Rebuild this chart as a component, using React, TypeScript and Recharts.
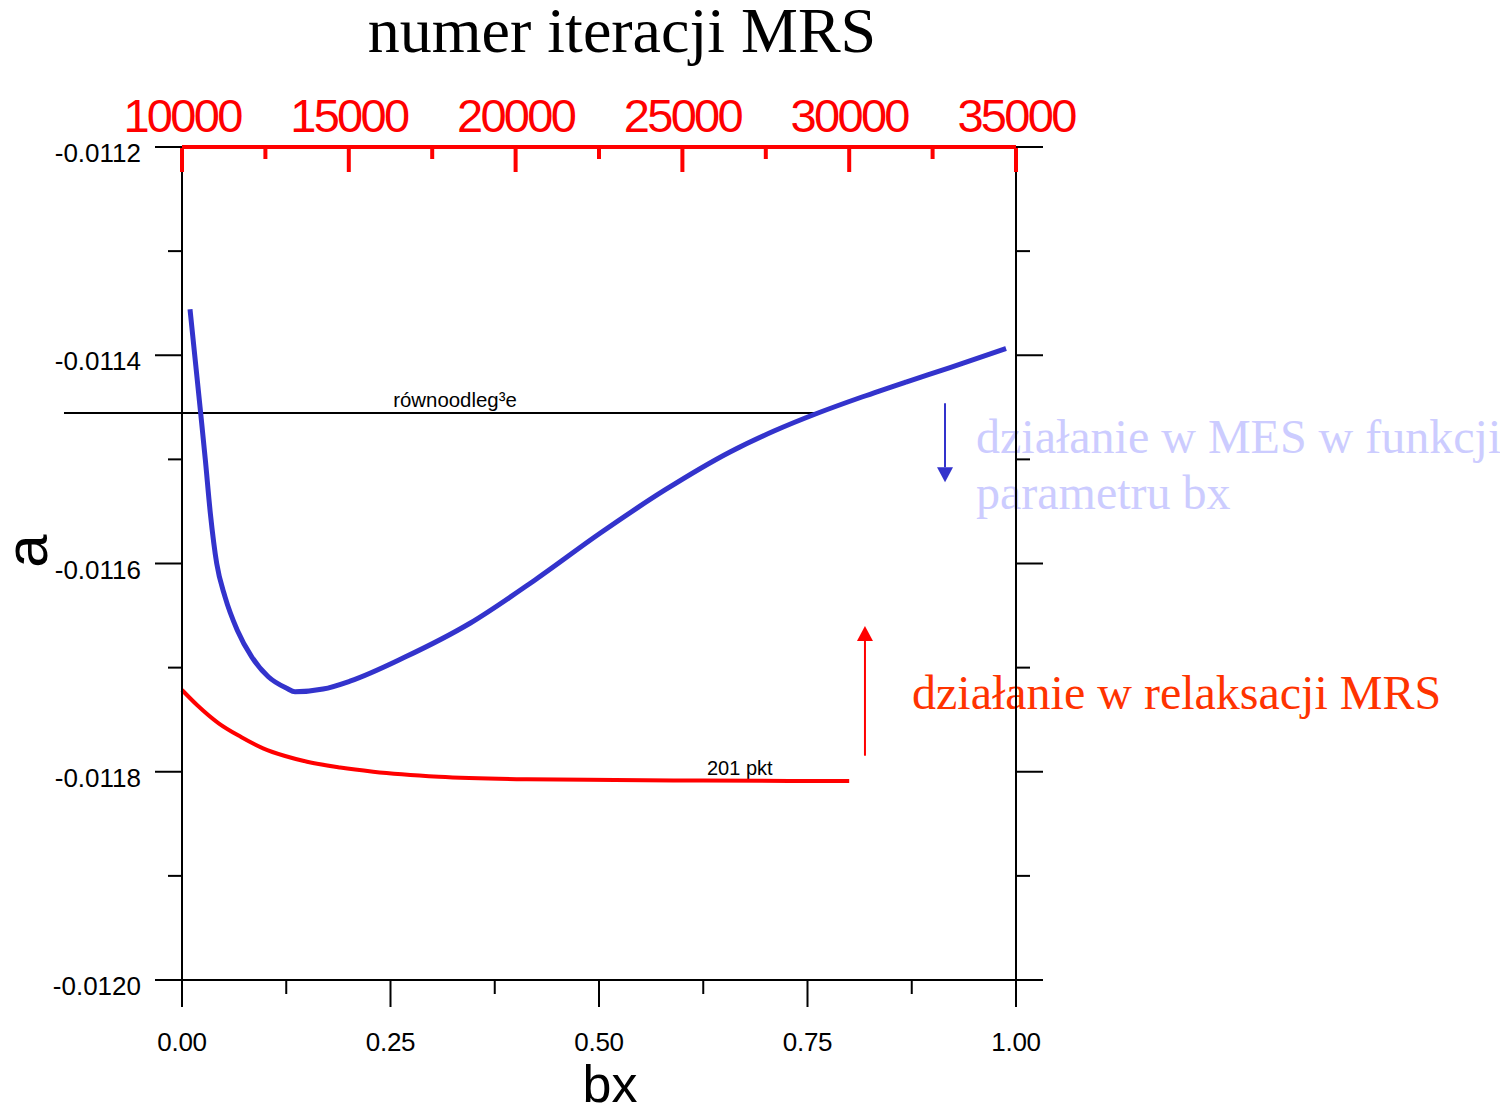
import React from 'react';
import { LineChart, Line, XAxis, YAxis, ReferenceLine } from 'recharts';

// bottom axis: bx, top axis: MRS iteration number, left/right: a
const bxTicks = [0, 0.125, 0.25, 0.375, 0.5, 0.625, 0.75, 0.875, 1];
const iterTicks = [10000, 12500, 15000, 17500, 20000, 22500, 25000, 27500, 30000, 32500, 35000];
const aTicks = [-0.012, -0.0119, -0.0118, -0.0117, -0.0116, -0.0115, -0.0114, -0.0113, -0.0112];

// MES, a as a function of bx (blue)
const mesBx = [0.0096, 0.0224, 0.028, 0.034, 0.0416, 0.0516, 0.0663, 0.0836, 0.1035, 0.1256, 0.1355, 0.1691, 0.2014, 0.2674, 0.3453, 0.4233, 0.5012, 0.5791, 0.6571, 0.7098, 0.7626, 0.8153, 0.8681, 0.9209, 0.988];
const mesA = [-0.0113559, -0.0114558, -0.0115007, -0.0115519, -0.0115999, -0.011632, -0.011664, -0.0116896, -0.0117088, -0.0117199, -0.0117232, -0.0117206, -0.011713, -0.0116899, -0.0116574, -0.0116158, -0.011571, -0.0115294, -0.0114929, -0.0114728, -0.0114555, -0.0114401, -0.0114257, -0.0114118, -0.0113935];

// MRS relaxation, a vs iteration (red)
const mrsIter = [10000, 10450, 11100, 11770, 12430, 13090, 13750, 14740, 15730, 17700, 20340, 22980, 25620, 30000];
const mrsA = [-0.0117215, -0.0117359, -0.0117535, -0.0117666, -0.0117775, -0.0117849, -0.0117904, -0.0117959, -0.0117999, -0.0118047, -0.0118072, -0.0118079, -0.0118085, -0.0118089];

// "równoodległe" level and arrows
const eqA = -0.0114555;
const eqFrom = -0.1415;
const eqTo = 0.7626;
const mesArrowBx = 0.9149;
const mesArrowA = [-0.0114461, -0.011522];
const mrsArrowBx = 0.8189;
const mrsArrowA = [-0.0117846, -0.01166];

const mesData = mesBx.map((bx, i) => ({ bx, a: mesA[i] }));
const mrsData = mrsIter.map((iter, i) => ({ iter, a: mrsA[i] }));

const SANS = 'Liberation Sans, Arial, sans-serif';
const SERIF = 'Liberation Serif, Times New Roman, serif';
const BLUE = '#3333cc';

const majorA = (v: number) => Math.round(Math.abs(v) * 1e4) % 2 === 0;

const LeftTick = ({ x, y, payload }: any) => {
  const major = majorA(payload.value);
  return (
    <g>
      <line x1={x - (major ? 27 : 14)} y1={y} x2={x} y2={y} stroke="#000" strokeWidth={2} />
      {major && (
        <text x={x - 41} y={y + 15} textAnchor="end" fontSize={26} fontFamily={SANS} fill="#000">
          {payload.value.toFixed(4)}
        </text>
      )}
    </g>
  );
};

const RightTick = ({ x, y, payload }: any) => {
  const major = majorA(payload.value);
  return <line x1={x} y1={y} x2={x + (major ? 27 : 14)} y2={y} stroke="#000" strokeWidth={2} />;
};

const BottomTick = ({ x, y, payload }: any) => {
  const major = Math.round(payload.value * 8) % 2 === 0;
  return (
    <g>
      <line x1={x} y1={y} x2={x} y2={y + (major ? 27 : 14)} stroke="#000" strokeWidth={2} />
      {major && (
        <text x={x} y={y + 71} textAnchor="middle" fontSize={26} letterSpacing={-0.3} fontFamily={SANS} fill="#000">
          {payload.value.toFixed(2)}
        </text>
      )}
    </g>
  );
};

const TopTick = ({ x, y, payload }: any) => {
  const major = (payload.value - 10000) % 5000 === 0;
  return (
    <g>
      <line x1={x} y1={y} x2={x} y2={y + (major ? 25 : 12)} stroke="#ff0000" strokeWidth={4} />
      {major && (
        <text x={x} y={y - 15} textAnchor="middle" fontSize={47} letterSpacing={-2.7} fontFamily={SANS} fill="#ff0000">
          {payload.value}
        </text>
      )}
    </g>
  );
};

const arrow = (color: string) => (p: any) => {
  const { x1, y1, x2, y2 } = p;
  const len = Math.hypot(x2 - x1, y2 - y1) || 1;
  const ux = (x2 - x1) / len;
  const uy = (y2 - y1) / len;
  const bx = x2 - ux * 15;
  const by = y2 - uy * 15;
  return (
    <g>
      <line x1={x1} y1={y1} x2={bx} y2={by} stroke={color} strokeWidth={2} />
      <polygon points={`${x2},${y2} ${bx - uy * 8},${by + ux * 8} ${bx + uy * 8},${by - ux * 8}`} fill={color} />
    </g>
  );
};

export default function App() {
  return (
    <div style={{ position: 'relative', width: 1500, height: 1099 }}>
      <svg width={1500} height={1099} style={{ position: 'absolute', left: 0, top: 0, overflow: 'visible' }}>
        <text x={614} y={44} textAnchor="middle" fontSize={64} fontFamily={SERIF} fill="#000">numer iteracji MRS</text>
        <text transform="translate(39,543) rotate(-90)" textAnchor="middle" fontSize={60} fontFamily={SANS} fill="#000">a</text>
        <text x={602} y={1094} textAnchor="middle" fontSize={52} fontFamily={SANS} fill="#000">bx</text>
        <text x={447} y={399} textAnchor="middle" fontSize={20.4} fontFamily={SANS} fill="#000">równoodleg³e</text>
        <text x={699} y={767} fontSize={20} fontFamily={SANS} fill="#000">201 pkt</text>
        <text x={968} y={445} fontSize={48} fontFamily={SERIF} fill="#ccccff">działanie w MES w funkcji</text>
        <text x={968} y={501} fontSize={48} fontFamily={SERIF} fill="#ccccff">parametru bx</text>
        <text x={904} y={701} fontSize={48} fontFamily={SERIF} fill="#ff3300">działanie w relaksacji MRS</text>
      </svg>
      <LineChart width={1500} height={1099} margin={{ top: 0, right: 0, bottom: 0, left: 0 }}>
        <XAxis xAxisId="bx" dataKey="bx" type="number" orientation="bottom" domain={[0, 1]} ticks={bxTicks}
          interval={0} height={127} tickSize={0} tickMargin={0} tickLine={false}
          axisLine={{ stroke: '#000', strokeWidth: 2 }} tick={<BottomTick />} />
        <XAxis xAxisId="iter" dataKey="iter" type="number" orientation="top" domain={[10000, 35000]} ticks={iterTicks}
          interval={0} height={139} tickSize={0} tickMargin={0} tickLine={false}
          axisLine={{ stroke: '#ff0000', strokeWidth: 4 }} tick={<TopTick />} />
        <YAxis yAxisId="left" type="number" orientation="left" domain={[-0.012, -0.0112]} ticks={aTicks}
          interval={0} width={174} tickSize={0} tickMargin={0} tickLine={false}
          axisLine={{ stroke: '#000', strokeWidth: 2 }} tick={<LeftTick />} />
        <YAxis yAxisId="right" type="number" orientation="right" domain={[-0.012, -0.0112]} ticks={aTicks}
          interval={0} width={492} tickSize={0} tickMargin={0} tickLine={false}
          axisLine={{ stroke: '#000', strokeWidth: 2 }} tick={<RightTick />} />
        <ReferenceLine xAxisId="bx" yAxisId="left" ifOverflow="visible" stroke="#000" strokeWidth={2}
          segment={[{ x: eqFrom, y: eqA }, { x: eqTo, y: eqA }]} />
        <ReferenceLine xAxisId="bx" yAxisId="left" ifOverflow="visible" shape={arrow(BLUE)}
          segment={[{ x: mesArrowBx, y: mesArrowA[0] }, { x: mesArrowBx, y: mesArrowA[1] }]} />
        <ReferenceLine xAxisId="bx" yAxisId="left" ifOverflow="visible" shape={arrow('#ff0000')}
          segment={[{ x: mrsArrowBx, y: mrsArrowA[0] }, { x: mrsArrowBx, y: mrsArrowA[1] }]} />
        <Line xAxisId="bx" yAxisId="left" data={mesData} dataKey="a" type="monotone" stroke={BLUE}
          strokeWidth={5} dot={false} isAnimationActive={false} />
        <Line xAxisId="iter" yAxisId="right" data={mrsData} dataKey="a" type="monotone" stroke="#ff0000"
          strokeWidth={4} dot={false} isAnimationActive={false} />
      </LineChart>
    </div>
  );
}
